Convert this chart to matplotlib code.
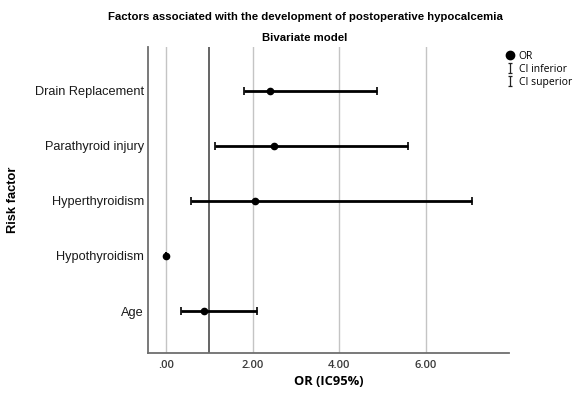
import matplotlib
matplotlib.use("Agg")
import matplotlib.pyplot as plt
from matplotlib.lines import Line2D
from matplotlib.path import Path

# data (bottom to top)
factors = ["Age", "Hypothyroidism", "Hyperthyroidism", "Parathyroid injury", "Drain Replacement"]
odds_ratio = [0.88, 0.00, 2.06, 2.49, 2.40]
ci_lower = [0.35, 0.00, 0.57, 1.12, 1.79]
ci_upper = [2.10, 0.00, 7.07, 5.58, 4.87]
x_ticks = [0, 2, 4, 6]
x_tick_labels = [".00", "2.00", "4.00", "6.00"]
ref_value = 1.0

fig = plt.figure(figsize=(5.79, 3.96), dpi=100)
ax = fig.add_axes([0.2556, 0.1086, 0.6235, 0.7727])

ypos = list(range(len(factors)))
for xt in x_ticks:
    ax.axvline(xt, color="#c4c4c4", lw=1.0, zorder=0)
ax.axvline(ref_value, color="#3a3a3a", lw=1.1, zorder=1)

xerr = [[o - l for o, l in zip(odds_ratio, ci_lower)],
        [u - o for o, u in zip(odds_ratio, ci_upper)]]
ax.errorbar(odds_ratio, ypos, xerr=xerr, fmt="o", color="black", ms=4.5,
            elinewidth=2.0, capsize=3, capthick=1.2, zorder=3)

ax.set_xlim(-0.42, 7.92)
ax.set_ylim(-0.76, 4.79)
ax.set_yticks(ypos)
ax.set_yticklabels(factors, family="Liberation Sans", fontsize=9.2, color="#1a1a1a")
ax.set_xticks(x_ticks)
ax.set_xticklabels(x_tick_labels, family="Open Sans", fontsize=8, fontweight="semibold",
                   color="#3a3a3a")
ax.tick_params(axis="x", length=0, pad=5)
ax.tick_params(axis="y", length=0, pad=3)

for side in ["top", "right"]:
    ax.spines[side].set_visible(False)
for side in ["left", "bottom"]:
    ax.spines[side].set_color("#6e6e6e")
    ax.spines[side].set_linewidth(1.3)

ax.set_xlabel("OR (IC95%)", family="Open Sans", fontweight="bold", fontsize=9.3)
ax.xaxis.set_label_coords(0.5, -0.072)
fig.text(13 / 579, 0.495, "Risk factor", rotation=90, ha="center", va="center",
         family="Liberation Sans", fontweight="bold", fontsize=9.3)

fig.text(0.527, 0.958, "Factors associated with the development of postoperative hypocalcemia",
         ha="center", va="center", family="Liberation Sans", fontweight="bold", fontsize=8.2)
fig.text(0.527, 0.905, "Bivariate model", ha="center", va="center",
         family="Liberation Sans", fontweight="bold", fontsize=8.2)

ibeam = Path([(0, -1), (0, 1), (-0.45, 1), (0.45, 1), (-0.45, -1), (0.45, -1)],
             [Path.MOVETO, Path.LINETO, Path.MOVETO, Path.LINETO, Path.MOVETO, Path.LINETO])
handles = [
    Line2D([], [], marker="o", ls="none", color="black", ms=6),
    Line2D([], [], marker=ibeam, ls="none", color="#222222", ms=6.5, mew=0.9),
    Line2D([], [], marker=ibeam, ls="none", color="#222222", ms=6.5, mew=0.9),
]
fig.legend(handles, ["OR", "CI inferior", "CI superior"], loc="upper left",
           bbox_to_anchor=(0.866, 0.885), frameon=False, handlelength=0.6,
           handletextpad=0.55, labelspacing=0.2, borderpad=0,
           prop={"family": "Open Sans", "size": 7.5})

fig.savefig("out.png", dpi=100, facecolor="white")
